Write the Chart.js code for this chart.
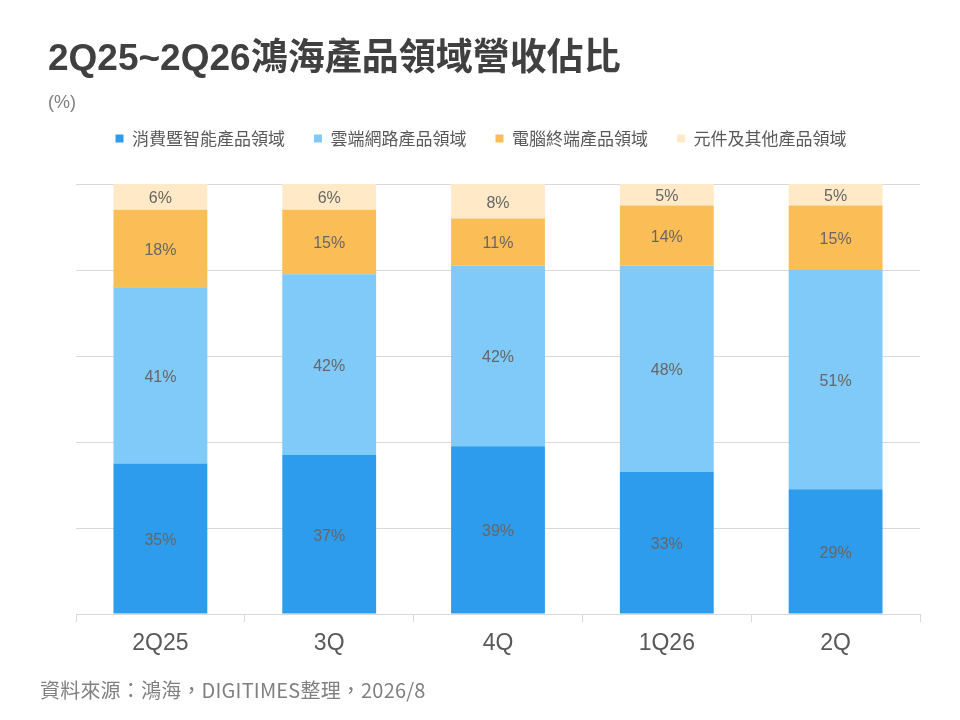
<!DOCTYPE html>
<html>
<head>
<meta charset="utf-8">
<script src="https://cdn.jsdelivr.net/npm/chart.js@4"></script>
<style>
  body { margin: 0; background: #fff; }
  #wrap { position: relative; width: 960px; height: 720px; }
  #chart-canvas { position: absolute; left: 0; top: 0; }
  .txt { position: absolute; white-space: nowrap; }
  #title { left: 48px; top: 27px; font: bold 37px "Liberation Sans", "Noto Sans CJK TC", sans-serif; color: #404040; }
  #unit { left: 48px; top: 92px; font: 18px "Liberation Sans", "Noto Sans CJK TC", sans-serif; color: #808080; }
  #source { left: 40px; top: 675px; font: 20px "Noto Sans CJK TC", sans-serif; color: #808080; letter-spacing: 0.2px; }
</style>
</head>
<body>
<div id="wrap">
  <canvas id="chart-canvas" width="960" height="720"></canvas>
  <div id="title" class="txt">2Q25~2Q26鴻海產品領域營收佔比</div>
  <div id="unit" class="txt">(%)</div>
  <div id="source" class="txt">資料來源：鴻海，DIGITIMES整理，2026/8</div>
</div>
<script>
//------------------------ DATA ----------------------------

const quarters = ["2Q25", "3Q", "4Q", "1Q26", "2Q"];
const seriesNames = ["消費暨智能產品領域", "雲端網路產品領域", "電腦終端產品領域", "元件及其他產品領域"];
const consumer = [35, 37, 39, 33, 29];
const cloud = [41, 42, 42, 48, 51];
const computing = [18, 15, 11, 14, 15];
const components = [6, 6, 8, 5, 5];

const colors = ["#2E9CED", "#7FCAF9", "#FBBE57", "#FFE9C6"];

//------------------------ CHART ----------------------------

// Draw percentage labels in the middle of each segment
const segmentLabels = {
  id: "segmentLabels",
  afterDatasetsDraw(chart) {
    const ctx = chart.ctx;
    ctx.save();
    ctx.font = '16px "Liberation Sans", sans-serif';
    ctx.fillStyle = "#666666";
    ctx.textAlign = "center";
    ctx.textBaseline = "middle";
    chart.data.datasets.forEach((ds, i) => {
      chart.getDatasetMeta(i).data.forEach((bar, j) => {
        const mid = (bar.y + bar.base) / 2 + 2;
        ctx.fillText(ds.data[j] + "%", bar.x, mid);
      });
    });
    ctx.restore();
  },
};

// Leave room between legend and plot
const legendSpace = {
  id: "legendSpace",
  beforeInit(chart) {
    const fit = chart.legend.fit;
    chart.legend.fit = function () {
      fit.bind(chart.legend)();
      this.height = 83;
    };
  },
};

const ctx = document.getElementById("chart-canvas").getContext("2d");
const myChart = new Chart(ctx, {
  type: "bar",
  data: {
    labels: quarters,
    datasets: [consumer, cloud, computing, components].map((d, i) => ({
      label: seriesNames[i],
      data: d,
      backgroundColor: colors[i],
      borderWidth: 0,
      categoryPercentage: 1,
      barPercentage: 0.556,
    })),
  },
  options: {
    responsive: false,
    animation: false,
    devicePixelRatio: 1,
    layout: {
      padding: { left: 42, right: 40, top: 101, bottom: 0 },
    },
    plugins: {
      legend: {
        position: "top",
        labels: {
          boxWidth: 8,
          boxHeight: 8,
          padding: 29,
          color: "#595959",
          font: { size: 17, family: '"Noto Sans CJK TC", sans-serif' },
        },
      },
      tooltip: { enabled: false },
    },
    scales: {
      x: {
        stacked: true,
        grid: {
          offset: true,
          drawOnChartArea: false,
          tickLength: 8,
          color: "#d9d9d9",
        },
        border: { color: "#d9d9d9" },
        ticks: {
          color: "#595959",
          padding: 8,
          font: { size: 23, family: '"Liberation Sans", sans-serif' },
        },
        afterFit(axis) {
          axis.height = 106;
        },
      },
      y: {
        stacked: true,
        min: 0,
        max: 100,
        ticks: { display: false, stepSize: 20 },
        grid: { color: "#d9d9d9", drawTicks: false },
        border: { display: false },
        afterFit(axis) {
          axis.width = 34;
        },
      },
    },
  },
  plugins: [segmentLabels, legendSpace],
});
</script>
</body>
</html>
